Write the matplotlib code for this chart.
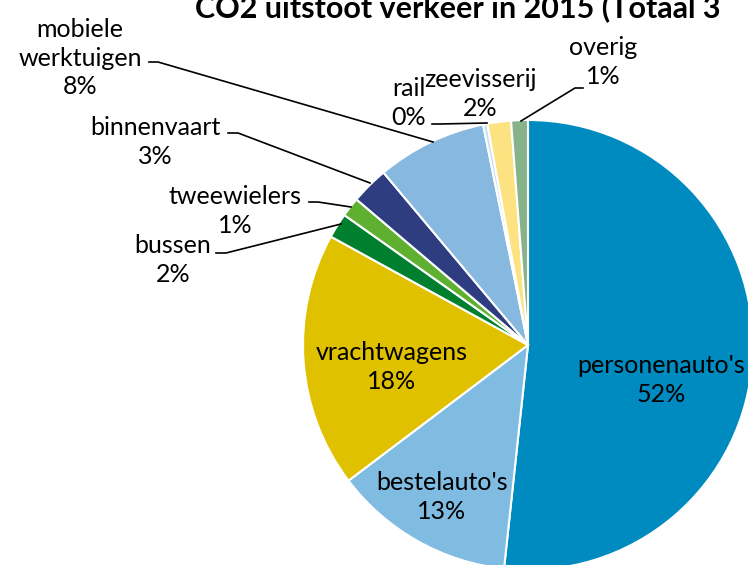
import matplotlib.pyplot as plt

# Data (share of CO2 emissions, %)
categories = ["personenauto's", "bestelauto's", "vrachtwagens", "bussen", "tweewielers",
              "binnenvaart", "mobiele\nwerktuigen", "rail", "zeevisserij", "overig"]
values = [51.7, 13.0, 18.3, 1.8, 1.4, 2.7, 7.9, 0.3, 1.7, 1.2]
pct_labels = ["52%", "13%", "18%", "2%", "1%", "3%", "8%", "0%", "2%", "1%"]
colors = ["#008bc0", "#80bbe2", "#e0c100", "#00802f", "#5fb030",
          "#2e3c80", "#86b8e0", "#c5dff2", "#fde282", "#86b38a"]

W, H = 748, 565
fig = plt.figure(figsize=(W / 100, H / 100), dpi=100)
ax = fig.add_axes([0, 0, 1, 1])

font = 'Lato'
fs = 18

def py(y):
    # pixel row from top -> data y
    return H - y

cx, cy, r = 528, py(345), 225
ax.pie(values, colors=colors, startangle=90, counterclock=False,
       center=(cx, cy), radius=r, frame=True,
       wedgeprops=dict(edgecolor='white', linewidth=1.5))
ax.set_xlim(0, W)
ax.set_ylim(0, H)
ax.axis('off')

# inside labels (pixel positions from top-left)
inside = {0: (661, 380), 1: (442, 497), 2: (392, 367)}
for i, (x, y) in inside.items():
    ax.text(x, py(y), categories[i] + "\n" + pct_labels[i], ha='center', va='center',
            fontsize=fs, family=font, linespacing=1.3)

# outside labels with leader lines: text pos, leader line points
outside = {
    6: ((80, 58), [(149, 62), (158, 62), (433, 142)]),
    5: ((155, 142), [(228, 133), (238, 133), (370, 183)]),
    4: ((235, 211), [(309, 202), (318, 202), (351, 207)]),
    3: ((173, 260), [(216, 253), (226, 253), (341, 224)]),
    7: ((409, 103), [(432, 124), (440, 124), (487, 123)]),
    8: ((480, 94), None),
    9: ((603, 62), [(583, 88), (575, 88), (521, 121)]),
}
for i, ((x, y), pts) in outside.items():
    ax.text(x, py(y), categories[i] + "\n" + pct_labels[i], ha='center', va='center',
            fontsize=fs, family=font, linespacing=1.3)
    if pts:
        ax.plot([p[0] for p in pts], [py(p[1]) for p in pts], color='black', lw=1.2)

ax.text(195, py(17), "CO2 uitstoot verkeer in 2015 (Totaal 3", ha='left', va='baseline',
        fontsize=22, fontweight='bold', family=font)

fig.savefig('out.png', dpi=100)
